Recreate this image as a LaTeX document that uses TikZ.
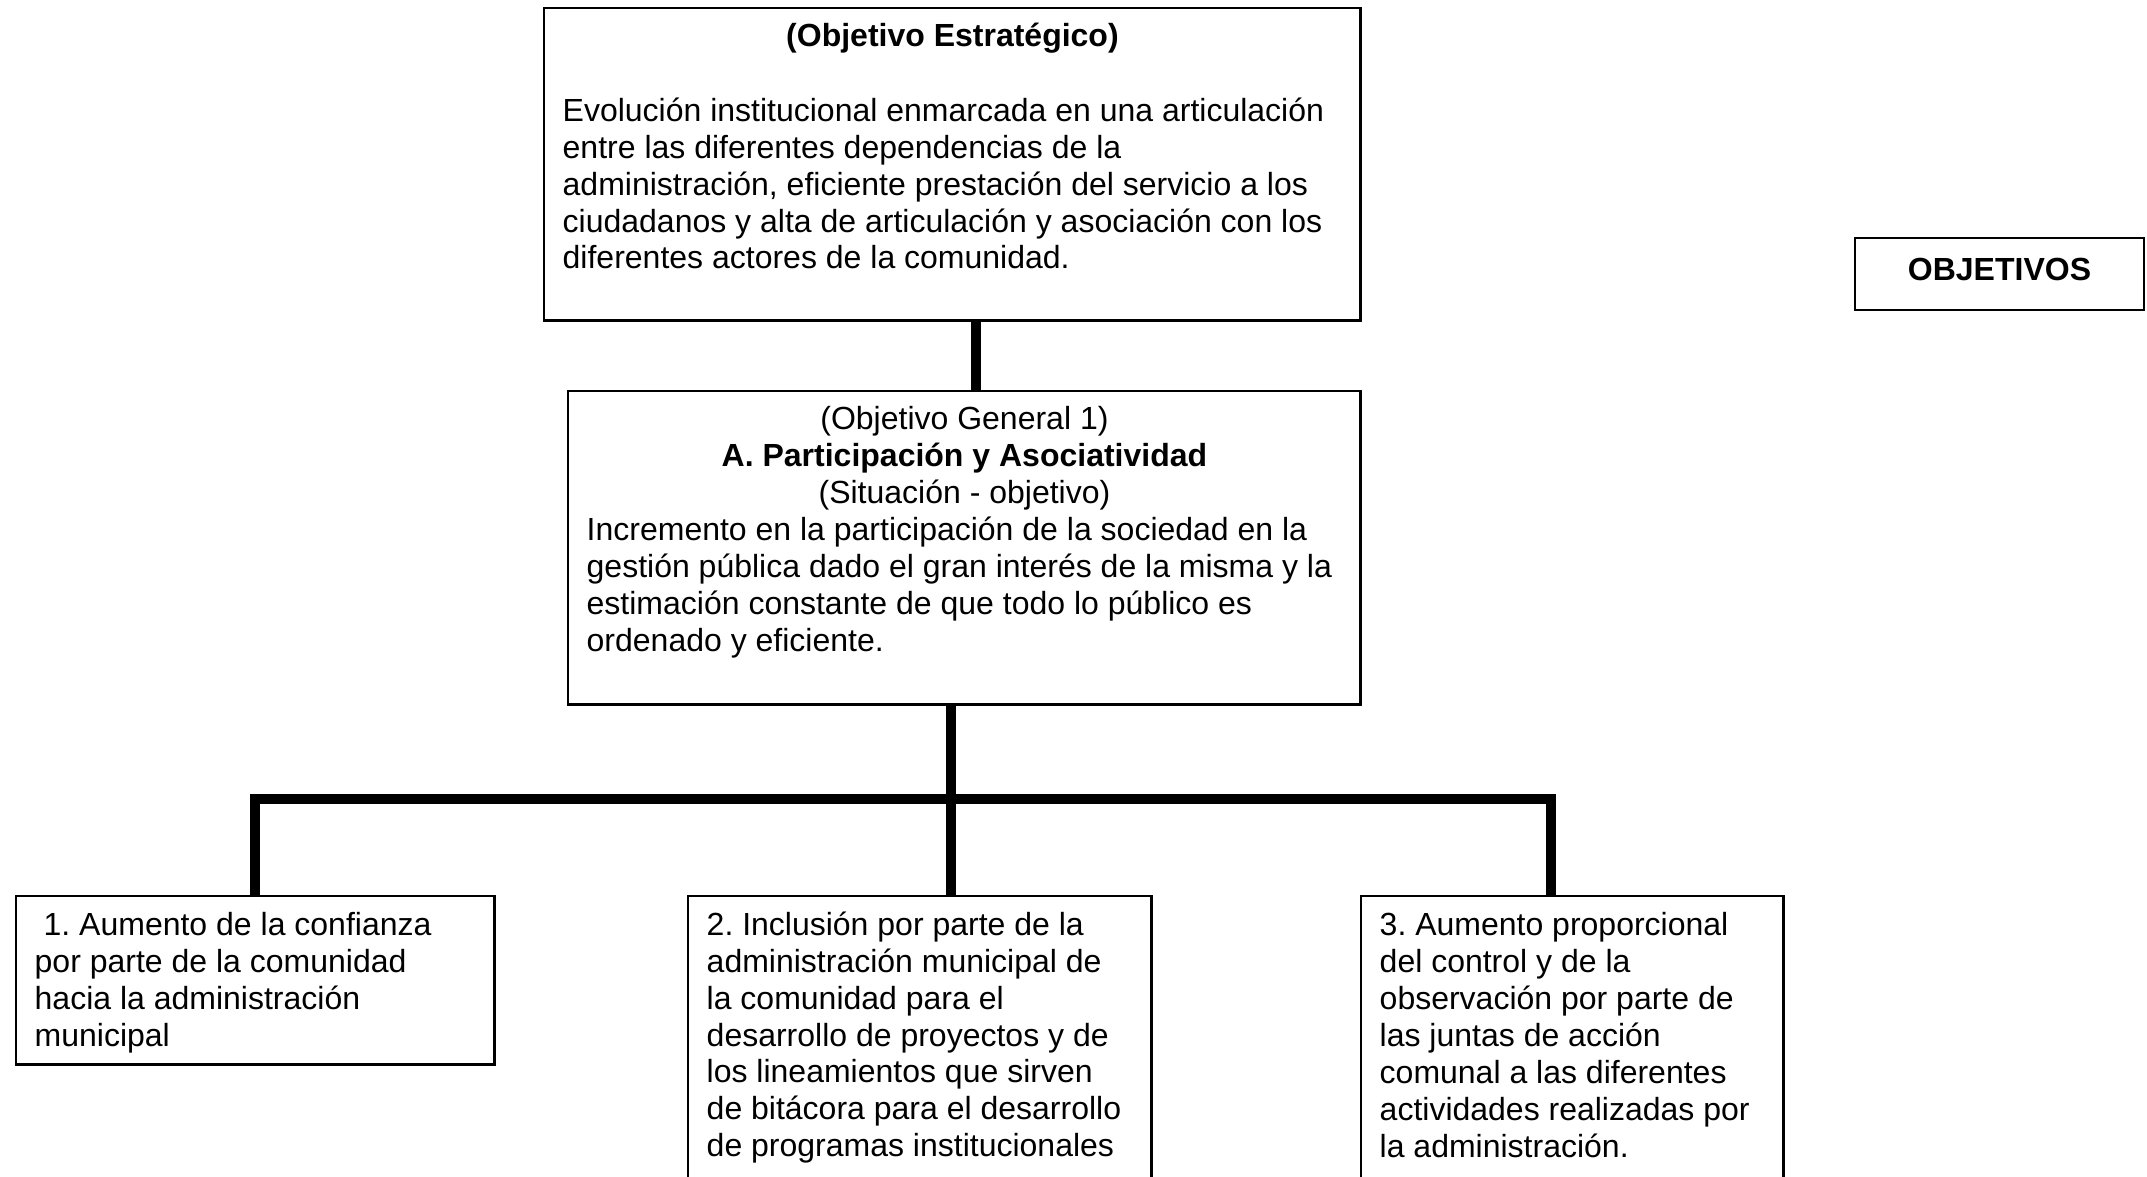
\documentclass[tikz,border=0pt]{standalone}
\usepackage{fontspec}
\setmainfont{Liberation Sans}
\frenchspacing
\usetikzlibrary{calc}

\tikzset{
    caja/.style={draw, line width=0.7pt, inner sep=0pt, anchor=north west},
    texto/.style={inner sep=0pt, align=left, anchor=north west,
        font=\fontsize{9.1}{10.5}\selectfont},
    titulo/.style={inner sep=0pt, align=center, anchor=north,
        font=\fontsize{9.1}{10.5}\selectfont},
    enlace/.style={line width=2.8pt, line join=miter},
}

\begin{document}
\begin{tikzpicture}[x=0.01cm, y=-0.01cm]
    \path[use as bounding box, clip] (0,0) rectangle (2147,1177);

    % Cajas
    \node[caja, minimum width=8.16cm, minimum height=3.12cm] (estrategico) at (543,7) {};
    \node[caja, minimum width=7.92cm, minimum height=3.13cm] (general) at (567,390) {};
    \node[caja, minimum width=4.78cm, minimum height=1.68cm] (meta1) at (15,895) {};
    \node[caja, minimum width=4.63cm, minimum height=3.00cm] (meta2) at (687,895) {};
    \node[caja, minimum width=4.22cm, minimum height=3.00cm] (meta3) at (1360,895) {};
    \node[caja, anchor=center, minimum width=2.89cm, minimum height=0.72cm,
        font=\fontsize{9.1}{10.5}\selectfont\bfseries,
        text height=0.23cm, text depth=0.09cm] (objetivos) at (1999.5,274) {OBJETIVOS};

    % Objetivo estrategico
    \node[titulo, font=\fontsize{9.1}{10.5}\selectfont\bfseries] (estrategico-tit)
        at ($(estrategico.north)+(0,15)$) {(Objetivo Estratégico)};
    \node[texto] (estrategico-txt) at ($(estrategico.north west)+(19,90)$)
        {Evolución institucional enmarcada en una articulación\\
         entre las diferentes dependencias de la\\
         administración, eficiente prestación del servicio a los\\
         ciudadanos y alta de articulación y asociación con los\\
         diferentes actores de la comunidad.};

    % Objetivo general
    \node[titulo] (general-tit) at ($(general.north)+(0,16)$)
        {(Objetivo General 1)\\
         \textbf{A. Participación y Asociatividad}\\
         (Situación - objetivo)};
    \node[texto] (general-txt) at ($(general.north west)+(19,126)$)
        {Incremento en la participación de la sociedad en la\\
         gestión pública dado el gran interés de la misma y la\\
         estimación constante de que todo lo público es\\
         ordenado y eficiente.};

    % Objetivos especificos
    \node[texto] (meta1-txt) at ($(meta1.north west)+(19,17)$)
        {\hspace*{0.28em}1. Aumento de la confianza\\
         por parte de la comunidad\\
         hacia la administración\\
         municipal};
    \node[texto] (meta2-txt) at ($(meta2.north west)+(19,16)$)
        {2. Inclusión por parte de la\\
         administración municipal de\\
         la comunidad para el\\
         desarrollo de proyectos y de\\
         los lineamientos que sirven\\
         de bitácora para el desarrollo\\
         de programas institucionales};
    \node[texto] (meta3-txt) at ($(meta3.north west)+(19,17)$)
        {3. Aumento proporcional\\
         del control y de la\\
         observación por parte de\\
         las juntas de acción\\
         comunal a las diferentes\\
         actividades realizadas por\\
         la administración.};

    % Conectores
    \coordinate (bajada) at (976,0);
    \coordinate (bus-izq) at (255,799);
    \coordinate (bus-centro) at (951,799);
    \coordinate (bus-der) at (1551,799);

    \draw[enlace] (estrategico.south -| bajada) -- (general.north -| bajada);
    \draw[enlace] (general.south -| bus-centro) -- (meta2.north -| bus-centro);
    \draw[enlace] (meta1.north -| bus-izq) -- (bus-izq) -- (bus-der) -- (meta3.north -| bus-der);
\end{tikzpicture}
\end{document}
